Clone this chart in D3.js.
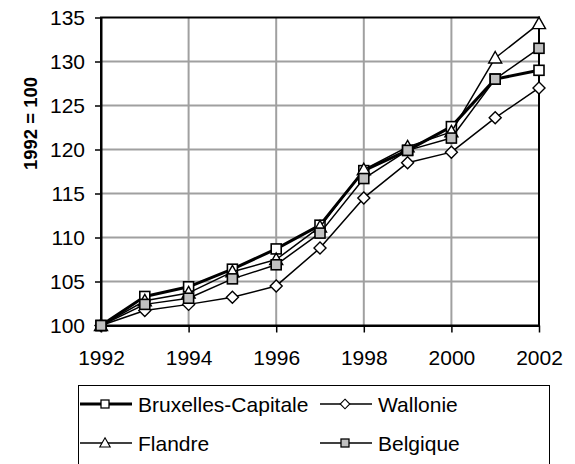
<!DOCTYPE html>
<html>
<head>
<meta charset="utf-8">
<script src="https://cdn.jsdelivr.net/npm/d3@7/dist/d3.min.js"></script>
<style>
  html, body { margin: 0; padding: 0; background: #fff; }
  svg { display: block; font-family: "Liberation Sans", Arial, sans-serif; }
</style>
</head>
<body>
<svg id="chart" width="575" height="464"></svg>
<script>
// Index of regional values, 1992 = 100
const years = [1992, 1993, 1994, 1995, 1996, 1997, 1998, 1999, 2000, 2001, 2002];
const bruxelles = [100, 103.3, 104.4, 106.4, 108.7, 111.4, 117.6, 119.9, 122.6, 128.0, 129.0];
const wallonie  = [100, 101.7, 102.4, 103.2, 104.5, 108.8, 114.5, 118.5, 119.7, 123.6, 127.0];
const flandre   = [100, 102.8, 103.7, 106.1, 107.5, 111.2, 117.7, 120.3, 122.0, 130.4, 134.3];
const belgique  = [100, 102.4, 103.1, 105.3, 106.9, 110.5, 116.7, 119.9, 121.3, 128.0, 131.5];
const seriesNames = ["Bruxelles-Capitale", "Wallonie", "Flandre", "Belgique"];
const xTicks = [1992, 1994, 1996, 1998, 2000, 2002];
const yTicks = [100, 105, 110, 115, 120, 125, 130, 135];
const yTitle = "1992 = 100";

const series = [
  { name: seriesNames[0], values: bruxelles, marker: "square",   fill: "#fff",    width: 3 },
  { name: seriesNames[1], values: wallonie,  marker: "diamond",  fill: "#fff",    width: 1.5 },
  { name: seriesNames[2], values: flandre,   marker: "triangle", fill: "#fff",    width: 1.5 },
  { name: seriesNames[3], values: belgique,  marker: "square",   fill: "#c0c0c0", width: 1.5 }
];

const svg = d3.select("#chart");
const plot = { left: 101, right: 539, top: 17.5, bottom: 325.5 };

const x = d3.scaleLinear().domain([1992, 2002]).range([plot.left, plot.right]);
const y = d3.scaleLinear().domain([100, 135]).range([plot.bottom, plot.top]);

// Gridlines
const grid = svg.append("g");
grid.selectAll("line.h").data(yTicks.slice(1, -1)).join("line")
  .attr("x1", plot.left).attr("x2", plot.right)
  .attr("y1", d => y(d)).attr("y2", d => y(d))
  .attr("stroke", "#a0a0a0").attr("stroke-width", 2);
grid.selectAll("line.v").data(xTicks.slice(1, -1)).join("line")
  .attr("y1", plot.top).attr("y2", plot.bottom)
  .attr("x1", d => x(d)).attr("x2", d => x(d))
  .attr("stroke", "#a0a0a0").attr("stroke-width", 2);

// Plot border
svg.append("rect")
  .attr("x", plot.left).attr("y", plot.top)
  .attr("width", plot.right - plot.left).attr("height", plot.bottom - plot.top)
  .attr("fill", "none").attr("stroke", "#000").attr("stroke-width", 2);

// Axes
const xAxis = d3.axisBottom(x).tickValues(xTicks).tickFormat(d3.format("d"))
  .tickSizeInner(7).tickSizeOuter(0).tickPadding(18);
const gx = svg.append("g").attr("transform", `translate(0,${plot.bottom})`).call(xAxis);
gx.select(".domain").attr("stroke", "#000").attr("stroke-width", 2);
gx.selectAll(".tick line").attr("stroke", "#000").attr("stroke-width", 1.5);
gx.selectAll(".tick text").attr("font-size", 21).attr("fill", "#000")
  .attr("font-family", "Liberation Sans, Arial, sans-serif");

const yAxis = d3.axisLeft(y).tickValues(yTicks).tickFormat(d3.format("d"))
  .tickSizeInner(6).tickSizeOuter(0).tickPadding(10);
const gy = svg.append("g").attr("transform", `translate(${plot.left},0)`).call(yAxis);
gy.select(".domain").attr("stroke", "#000").attr("stroke-width", 2);
gy.selectAll(".tick line").attr("stroke", "#000").attr("stroke-width", 1.5);
gy.selectAll(".tick text").attr("font-size", 21).attr("fill", "#000")
  .attr("font-family", "Liberation Sans, Arial, sans-serif");

svg.append("text")
  .attr("transform", `translate(37,123.5) rotate(-90)`)
  .attr("text-anchor", "middle")
  .attr("font-size", 18.5).attr("font-weight", "bold")
  .text(yTitle);

// Marker drawing
function drawMarker(g, type, fill) {
  if (type === "square") {
    g.append("rect").attr("x", -5).attr("y", -5).attr("width", 10).attr("height", 10)
      .attr("fill", fill).attr("stroke", "#000").attr("stroke-width", 1.6);
  } else if (type === "diamond") {
    g.append("path").attr("d", "M0,-6L6,0L0,6L-6,0Z")
      .attr("fill", fill).attr("stroke", "#000").attr("stroke-width", 1.4);
  } else {
    g.append("path").attr("d", "M0,-6.5L6.5,5L-6.5,5Z")
      .attr("fill", fill).attr("stroke", "#000").attr("stroke-width", 1.4);
  }
}

const line = d3.line().x((d, i) => x(years[i])).y(d => y(d));

series.forEach(s => {
  const g = svg.append("g");
  g.append("path").datum(s.values)
    .attr("d", line).attr("fill", "none")
    .attr("stroke", "#000").attr("stroke-width", s.width)
    .attr("stroke-linejoin", "round");
  s.values.forEach((v, i) => {
    const m = g.append("g").attr("transform", `translate(${x(years[i])},${y(v)})`);
    drawMarker(m, s.marker, s.fill);
  });
});

// Legend (its lower edge runs off the bottom of the drawing)
const legend = svg.append("g");
legend.append("rect")
  .attr("x", 78.5).attr("y", 385.5).attr("width", 471).attr("height", 90)
  .attr("fill", "#fff").attr("stroke", "#000").attr("stroke-width", 1);

const legendPos = [
  { x: 80, y: 404 }, { x: 320, y: 404 },
  { x: 80, y: 443 }, { x: 320, y: 443 }
];
series.forEach((s, i) => {
  const p = legendPos[i];
  const g = legend.append("g").attr("transform", `translate(${p.x},${p.y})`);
  g.append("line").attr("x1", 0).attr("x2", 52).attr("y1", 0).attr("y2", 0)
    .attr("stroke", "#000").attr("stroke-width", s.width);
  const m = g.append("g").attr("transform", "translate(25,0) scale(0.8)");
  drawMarker(m, s.marker, s.fill);
  g.append("text").attr("x", 58).attr("y", 7.5)
    .attr("font-size", 21).text(s.name);
});
</script>
</body>
</html>
